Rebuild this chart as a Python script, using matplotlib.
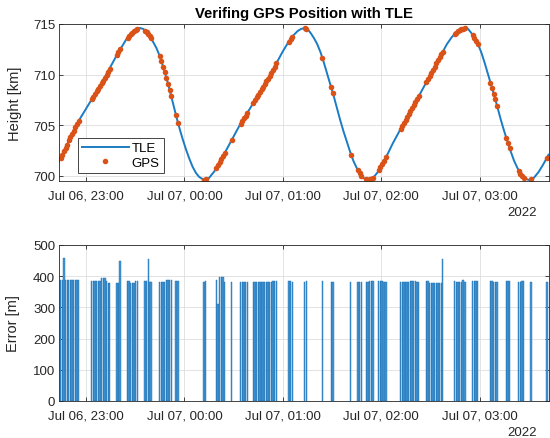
import datetime as dt
import matplotlib
matplotlib.use("Agg")
import matplotlib.pyplot as plt
import matplotlib.dates as mdates

plt.rcParams['font.family'] = ['Liberation Sans', 'DejaVu Sans']

t0 = dt.datetime(2022, 7, 6, 23, 0)

# TLE-propagated height, minutes after Jul 06 23:00
tle_min = [-17, -14, -11, -8, -5, -2, 1, 4, 7, 10, 13, 16, 19, 22, 25, 28, 31, 33,
           35, 37, 39, 41, 43, 45, 47, 49, 51, 53, 55, 57, 59, 61, 63, 65, 67, 69, 72,
           75, 78, 81, 84, 87, 90, 93, 96, 99, 102, 105, 108, 111, 114, 117, 120, 123,
           126, 129, 131, 133, 135, 137, 139, 141, 143, 145, 147, 149, 151, 153, 155,
           157, 159, 161, 163, 165, 167, 169, 172, 175, 178, 181, 184, 187, 190, 193,
           196, 199, 202, 205, 208, 211, 214, 217, 220, 223, 226, 229, 231, 233, 235,
           237, 239, 241, 243, 245, 247, 249, 251, 253, 255, 257, 259, 261, 263, 265,
           267, 270, 273, 276, 279, 282]
tle_km = [701.3, 702.3, 703.3, 704.3, 705.3, 706.1, 706.9, 707.7, 708.5, 709.3, 710.2,
          711.1, 712.0, 712.8, 713.6, 714.1, 714.5, 714.6,
          714.5, 714.2, 713.8, 713.2, 712.6, 711.8, 710.8, 709.7, 708.5, 707.2, 705.9,
          704.7, 703.6, 702.6, 701.7, 700.9, 700.3, 699.9, 699.6,
          699.8, 700.4, 701.2, 702.1, 703.0, 703.9, 704.8, 705.6, 706.4, 707.2, 708.0,
          708.8, 709.6, 710.5, 711.4, 712.3, 713.1, 713.8, 714.3, 714.5, 714.6,
          714.5, 714.1, 713.6, 713.0, 712.2, 711.2, 710.1, 709.0, 707.9, 706.7, 705.5,
          704.4, 703.4, 702.4, 701.5, 700.8, 700.2, 699.8, 699.6,
          699.8, 700.4, 701.3, 702.2, 703.2, 704.1, 705.0, 705.9, 706.8, 707.6, 708.5,
          709.4, 710.3, 711.2, 712.1, 713.0, 713.7, 714.2, 714.5, 714.6,
          714.5, 714.1, 713.6, 713.0, 712.2, 711.2, 710.1, 709.0, 707.9, 706.7, 705.5,
          704.4, 703.4, 702.4, 701.5, 700.8, 700.2, 699.8, 699.6,
          699.8, 700.4, 701.2, 702.1]

# GPS fixes: minutes after Jul 06 23:00, height [km], position error [m]
gps_min = [-15.5, -14.5, -13.5, -12.5, -11.5, -10.5, -9.5, -8.5, -7.5, -6.5, -5.5, -4.5,
           3.5, 4.5, 5.5, 6.5, 7.5, 8.5, 9.5, 10.5, 11.5, 12.5, 13.5, 14.5,
           18.8, 19.8, 20.8,
           25.3, 26.3, 27.3, 28.3, 29.3, 30.3, 31.3,
           36.0, 37.0, 38.0, 39.0, 39.7,
           45.0, 46.0, 47.0, 48.0, 49.0, 50.0, 51.0, 52.0,
           54.9, 56.1,
           72.0, 73.0,
           79.4, 80.4, 81.5, 82.5, 83.5, 84.5,
           88.8,
           94.3, 95.3, 96.3, 97.3, 98.3,
           102, 103, 104, 105, 106, 107, 108, 109, 110, 111, 112, 113, 114, 115, 116,
           123.7, 124.7, 125.7,
           133.4, 134.4,
           144.1,
           149.5, 150.5,
           161.3,
           165.8, 166.8, 167.8,
           171.0, 172.0, 173.0, 174.0, 175.0,
           178.5, 179.5, 180.5, 181.7, 182.9,
           191.8, 192.8, 193.8, 194.8, 195.8, 196.8, 197.8, 198.8, 199.8, 200.8, 201.8, 202.8,
           207.6, 208.6, 209.6, 210.6, 211.6, 212.6, 213.6, 214.6, 215.6, 216.6, 217.4,
           224.8, 225.8, 226.8, 227.8, 228.8, 229.9, 231.0,
           235.8, 236.8, 237.8, 238.9,
           246.6, 247.6, 248.6, 249.6, 250.6,
           256.3, 257.3, 258.3,
           263.9, 264.9, 265.9, 266.9,
           271.3,
           281.0]
gps_km = [701.8, 702.1, 702.5, 702.8, 703.1, 703.5, 703.8, 704.1, 704.4, 704.8, 705.1, 705.4,
          707.6, 707.8, 708.1, 708.4, 708.6, 708.9, 709.2, 709.4, 709.7, 710.0, 710.3, 710.6,
          711.9, 712.2, 712.5,
          713.6, 713.8, 714.0, 714.1, 714.3, 714.4, 714.5,
          714.35, 714.2, 714.0, 713.8, 713.6,
          711.8, 711.3, 710.8, 710.25, 709.7, 709.1, 708.5, 707.85,
          706.0, 705.2,
          699.6, 699.65,
          700.75, 701.05, 701.35, 701.65, 701.95, 702.25,
          703.55,
          705.15, 705.4, 705.7, 705.95, 706.2,
          707.2, 707.45, 707.75, 708.0, 708.25, 708.55, 708.8, 709.05, 709.35, 709.6,
          709.9, 710.2, 710.5, 710.8, 711.1,
          713.25, 713.5, 713.75,
          714.6, 714.55,
          711.65,
          708.75, 708.2,
          702.1,
          700.55, 700.25, 700.0,
          699.65, 699.6, 699.65, 699.7, 699.8,
          700.55, 700.85, 701.15, 701.5, 701.9,
          704.65, 704.95, 705.25, 705.55, 705.85, 706.15, 706.45, 706.75, 707.0, 707.3,
          707.55, 707.85,
          709.3, 709.6, 709.9, 710.2, 710.5, 710.8, 711.1, 711.4, 711.7, 712.0, 712.2,
          714.0, 714.15, 714.3, 714.4, 714.5, 714.55, 714.6,
          713.9, 713.65, 713.35, 713.05,
          709.2, 708.7, 708.1, 707.55, 706.95,
          703.75, 703.25, 702.75,
          700.5, 700.2, 699.95, 699.8,
          699.65,
          701.8]
err_m = [389, 389, 458, 389, 389, 389, 389, 389, 389, 389, 389, 389,
         386, 386, 386, 386, 386, 386, 393, 393, 393, 386, 378, 378,
         378, 378, 448,
         386, 386, 378, 378, 378, 386, 386,
         386, 386, 455, 380, 380,
         380, 380, 380, 380, 388, 388, 388, 388,
         386, 386,
         380, 386,
         388, 311, 396, 396, 396, 380,
         380,
         380, 380, 380, 380, 380,
         380, 380, 380, 380, 380, 380, 380, 380, 380, 380, 380, 380, 386, 386, 386,
         386, 386, 380,
         380, 386,
         386,
         380, 380,
         380,
         380, 380, 380,
         380, 380, 386, 386, 386,
         386, 386, 386, 380, 380,
         380, 380, 380, 380, 380, 380, 386, 386, 386, 386, 380, 380,
         386, 386, 378, 378, 378, 378, 378, 378, 378, 378, 455,
         386, 380, 380, 380, 380, 388, 380,
         386, 386, 386, 386,
         386, 386, 380, 380, 380,
         386, 386, 386,
         380, 380, 386, 386,
         380,
         380]

tle_t = [t0 + dt.timedelta(minutes=m) for m in tle_min]
gps_t = [t0 + dt.timedelta(minutes=m) for m in gps_min]

ORANGE = '#D95319'
AXC = '#262626'

fig = plt.figure(figsize=(5.5, 4.39), dpi=100)
ax1 = fig.add_axes([0.1078, 0.5854, 0.8895, 0.3577])
ax2 = fig.add_axes([0.1078, 0.0843, 0.8895, 0.3554])

ax1.plot(tle_t, tle_km, color='#1a7cc4', lw=1.4, label='TLE')
ax1.plot(gps_t, gps_km, ls='none', marker='o', ms=4.0, mec='none', color=ORANGE, label='GPS')
ax1.set_ylim(699.5, 715)
ax1.set_yticks([700, 705, 710, 715])
ax1.set_ylabel('Height [km]', fontsize=10.5, color=AXC)
ax1.set_title('Verifing GPS Position with TLE', fontsize=10.7, fontweight='bold', pad=5)
leg = ax1.legend(loc='lower left', bbox_to_anchor=(0.039, 0.051), borderaxespad=0,
                 fancybox=False, edgecolor=AXC, framealpha=1, fontsize=9.5,
                 handlelength=3.5, handletextpad=0.25, borderpad=0.3, labelspacing=0.2)
leg.get_frame().set_linewidth(0.6)

ax2.bar(gps_t, err_m, width=0.8 / 1440, color='#4596d3', edgecolor='#1a6db0', linewidth=0.3)
ax2.set_ylim(0, 500)
ax2.set_yticks(range(0, 501, 100))
ax2.set_ylabel('Error [m]', fontsize=10.5, color=AXC)

xmin = t0 + dt.timedelta(minutes=-16.3)
xmax = t0 + dt.timedelta(minutes=282)
for ax in (ax1, ax2):
    ax.set_xlim(xmin, xmax)
    ax.xaxis.set_major_locator(mdates.HourLocator())
    ax.xaxis.set_major_formatter(mdates.DateFormatter('%b %d, %H:%M'))
    ax.grid(True, color='#dedede', lw=0.6)
    ax.set_axisbelow(True)
    ax.tick_params(direction='in', top=True, right=True, length=3, width=0.6,
                   colors=AXC, labelsize=9.5)
    ax.tick_params(axis='x', pad=6)
    ax.tick_params(axis='y', pad=3)
    for s in ax.spines.values():
        s.set_color(AXC)
        s.set_linewidth(0.6)
    ax.text(0.9765, -0.197, '2022', transform=ax.transAxes, ha='right', va='center',
            fontsize=9.5, color=AXC)

ax1.yaxis.set_label_coords(-0.0762, 0.5)
ax2.yaxis.set_label_coords(-0.080, 0.5)

fig.savefig('out.png', dpi=100)
